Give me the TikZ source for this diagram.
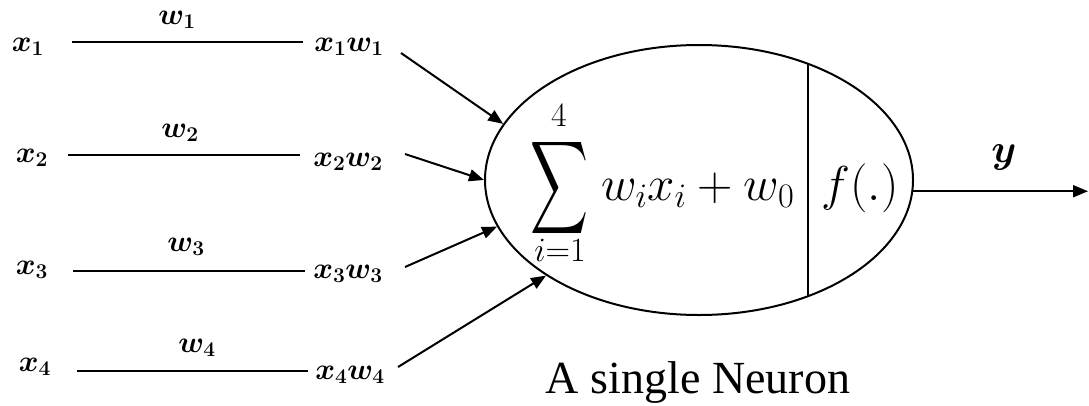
\RequirePackage{fix-cm}
\documentclass[tikz,border=0pt]{standalone}
\usepackage{amsmath}
\usepackage{bm}
\usepackage{graphicx}
\usepackage[no-math]{fontspec}
\newfontfamily\tnr{Liberation Serif}
\usetikzlibrary{arrows.meta,shapes.geometric}
\begin{document}
\begin{tikzpicture}[x=1pt,y=-1pt,
  lab/.style={inner sep=0pt,font=\fontsize{30}{34}\selectfont},
  big/.style={inner sep=0pt,anchor=base,font=\fontsize{49}{56}\selectfont},
  lim/.style={inner sep=0pt,font=\fontsize{34}{40}\selectfont},
  wire/.style={line width=2pt},
  arr/.style={line width=2pt,-{Triangle[length=15pt,width=12pt]}}]
\useasboundingbox (0,0) rectangle (1089,405);

% inputs
\node[lab] (x1) at (28,47)  {$\bm{x_1}$};
\node[lab] (x2) at (32,158) {$\bm{x_2}$};
\node[lab] (x3) at (32,270) {$\bm{x_3}$};
\node[lab] (x4) at (35,367) {$\bm{x_4}$};
% weights
\node[lab] (w1) at (177,20)  {$\bm{w_1}$};
\node[lab] (w2) at (180,133) {$\bm{w_2}$};
\node[lab] (w3) at (186,247) {$\bm{w_3}$};
\node[lab] (w4) at (197,348) {$\bm{w_4}$};
% products
\node[lab] (p1) at (349,47)  {$\bm{x_1w_1}$};
\node[lab] (p2) at (348,162) {$\bm{x_2w_2}$};
\node[lab] (p3) at (348,274) {$\bm{x_3w_3}$};
\node[lab] (p4) at (350,375) {$\bm{x_4w_4}$};

% weight lines
\coordinate (l1a) at (72,42);  \coordinate (l1b) at (303,42);
\coordinate (l2a) at (68,155); \coordinate (l2b) at (300,155);
\coordinate (l3a) at (73,271); \coordinate (l3b) at (305,271);
\coordinate (l4a) at (77,371); \coordinate (l4b) at (308,371);
\draw[wire] (l1a) -- (l1b);
\draw[wire] (l2a) -- (l2b);
\draw[wire] (l3a) -- (l3b);
\draw[wire] (l4a) -- (l4b);

% neuron
\node[draw, ellipse, line width=2pt, minimum width=428pt, minimum height=270pt, inner sep=0pt] (neuron) at (699,180) {};
\draw[line width=2pt] (neuron.47.8) -- (neuron.-47.8);

\node[big,anchor=base west] (sum) at (530,200) {$\vcenter{\hbox{\resizebox{58pt}{84pt}{$\displaystyle\sum$}}}\hspace{13pt}w_i x_i + w_0$};
\node[lim] (up) at (559,116) {$4$};
\node[lim] (lo) at (560,250) {$i{=}1$};
\node[big] (f) at (860,200) {$f(.)$};

% arrows into neuron
\coordinate (a1) at (401,53);
\coordinate (a2) at (405,154);
\coordinate (a3) at (405,267);
\coordinate (a4) at (398,367);
\draw[arr] (a1) -- (neuron.164.9);
\draw[arr] (a2) -- (neuron.180.5);
\draw[arr] (a3) -- (neuron.193.1);
\draw[arr] (a4) -- (neuron.212.8);

% output
\coordinate (yend) at (1088,190);
\draw[arr] (neuron.-3) -- (neuron.-3 -| yend);
\node[lab,font=\fontsize{40}{46}\selectfont] (y) at (1004,157) {$\bm{y}$};

\node[anchor=base,inner sep=0pt,font=\tnr\fontsize{46}{55}\selectfont] (cap) at (698,393) {A single Neuron};
\end{tikzpicture}
\end{document}
